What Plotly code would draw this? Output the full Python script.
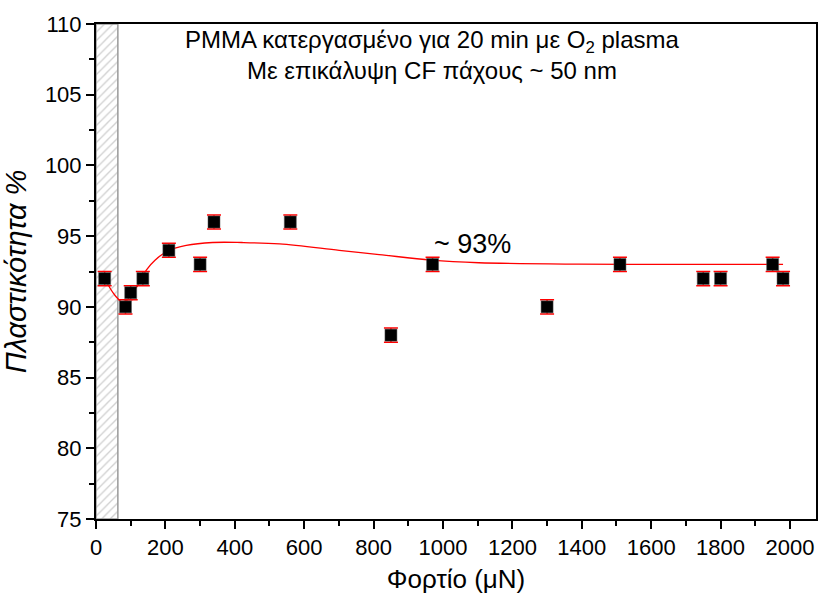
import plotly.graph_objects as go

# Measured plasticity vs applied load
load_uN = [25, 85, 100, 135, 210, 300, 340, 560, 850, 970, 1300, 1510, 1750, 1800, 1950, 1980]
plasticity = [92, 90, 91, 92, 94, 93, 96, 96, 88, 93, 90, 93, 92, 92, 93, 92]
plasticity_err = [0.5] * len(load_uN)

# Fitted trend line samples
fit_load = [25, 55, 80, 105, 125, 145, 170, 210, 260, 336, 420, 529, 701, 816, 966, 1103, 1391, 1700, 1980]
fit_plasticity = [92.0, 90.8, 90.3, 91.0, 91.7, 92.6, 93.3, 94.0, 94.35, 94.55, 94.55, 94.45,
                  94.0, 93.7, 93.3, 93.12, 93.02, 93.0, 93.0]

# Excluded low-load region (shaded)
excluded_load = [0, 63]

x_range = [0, 2075]
y_range = [75, 110]

FONT = "Liberation Sans, Arial, sans-serif"

fig = go.Figure()

# Hatched band for the excluded region
fig.add_trace(go.Scatter(
    x=[excluded_load[0], excluded_load[1], excluded_load[1], excluded_load[0], excluded_load[0]],
    y=[y_range[0], y_range[0], y_range[1], y_range[1], y_range[0]],
    mode="lines",
    fill="toself",
    fillcolor="white",
    fillpattern=dict(shape="/", fgcolor="#a0a0a0", bgcolor="white", size=6, solidity=0.22),
    line=dict(color="#9a9a9a", width=1.5),
    hoverinfo="skip",
    showlegend=False,
))

# Fitted curve
fig.add_trace(go.Scatter(
    x=fit_load, y=fit_plasticity,
    mode="lines",
    line=dict(color="#ff0000", width=1.3, shape="spline", smoothing=1.0),
    showlegend=False,
))

# Data points with error bars
fig.add_trace(go.Scatter(
    x=load_uN, y=plasticity,
    mode="markers",
    marker=dict(symbol="square", size=12, color="black", line=dict(color="#555555", width=0.5)),
    error_y=dict(type="data", array=plasticity_err, visible=True, color="#ff0000", thickness=1.5, width=7),
    showlegend=False,
))

fig.add_annotation(
    x=0.467, y=1.0, xref="paper", yref="paper", xanchor="center", yanchor="top",
    text="PMMA κατεργασμένο για 20 min με O<sub>2</sub> plasma<br>Με επικάλυψη CF πάχους ~ 50 nm",
    showarrow=False, align="center",
    font=dict(family=FONT, size=24, color="black"),
)

fig.add_annotation(
    x=1085, y=94.45, xref="x", yref="y", xanchor="center", yanchor="middle",
    text="~ 93%", showarrow=False,
    font=dict(family=FONT, size=27, color="black"),
)

axis_common = dict(
    showgrid=False, zeroline=False,
    showline=True, linecolor="black", linewidth=2,
    ticks="outside", ticklen=8, tickwidth=1.5, tickcolor="black",
    tickfont=dict(family=FONT, size=22, color="black"),
)

fig.update_xaxes(
    **axis_common,
    range=x_range, dtick=200, tick0=0, mirror=True,
    minor=dict(ticks="outside", ticklen=5, tickwidth=1.5, tickcolor="black", dtick=100),
    title=dict(text="Φορτίο (μΝ)", font=dict(family=FONT, size=26, color="black"), standoff=12),
)
fig.update_yaxes(
    **axis_common,
    range=y_range, dtick=5, tick0=75, mirror=True,
    minor=dict(ticks="outside", ticklen=5, tickwidth=1.5, tickcolor="black", dtick=2.5),
    title=dict(text="<i>Πλαστικότητα %</i>", font=dict(family=FONT, size=29, color="black"), standoff=12),
)

fig.update_layout(
    width=818, height=594,
    margin=dict(l=96, r=0, t=24, b=75),
    paper_bgcolor="white", plot_bgcolor="white",
    showlegend=False,
)

fig.write_html("out.html")
